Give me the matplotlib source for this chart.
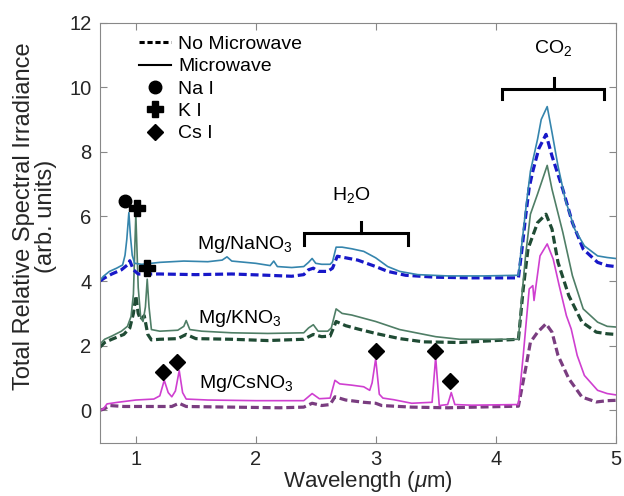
import matplotlib
matplotlib.use("Agg")
import matplotlib.pyplot as plt
from matplotlib.lines import Line2D

plt.rcParams["font.family"] = ["Liberation Sans", "DejaVu Sans"]
plt.rcParams["mathtext.fontset"] = "custom"
plt.rcParams["mathtext.rm"] = "Liberation Sans"
plt.rcParams["mathtext.it"] = "Liberation Sans:italic"

# ---- spectra (wavelength in um, offset irradiance) ----
wl_na_mw = [0.70, 0.73, 0.78, 0.84, 0.89, 0.91, 0.925, 0.942, 0.955, 0.97,
            0.99, 1.05, 1.20, 1.40, 1.60, 1.72, 1.76, 1.80, 2.00, 2.12,
            2.15, 2.18, 2.30, 2.40, 2.44, 2.47, 2.50, 2.55, 2.62, 2.64,
            2.67, 2.72, 2.80, 2.90, 3.00, 3.10, 3.20, 3.35, 3.60, 3.90,
            4.19, 4.22, 4.26, 4.29, 4.35, 4.38, 4.43, 4.47, 4.52, 4.58,
            4.66, 4.74, 4.85, 4.93, 5.00]
na_mw = [4.02, 4.15, 4.30, 4.40, 4.50, 4.80, 5.30, 6.12, 5.40, 4.80,
         4.55, 4.52, 4.58, 4.62, 4.60, 4.65, 4.75, 4.62, 4.55, 4.48,
         4.62, 4.45, 4.42, 4.45, 4.58, 4.70, 4.55, 4.52, 4.52, 4.60,
         5.05, 5.05, 5.00, 4.92, 4.72, 4.45, 4.30, 4.20, 4.16, 4.16,
         4.18, 5.20, 6.50, 7.40, 8.40, 9.00, 9.40, 8.60, 7.56, 6.53,
         5.60, 5.09, 4.78, 4.73, 4.70]

wl_na_off = [0.70, 0.74, 0.80, 0.88, 0.93, 0.95, 0.98, 1.02, 1.20, 1.50,
             1.80, 2.10, 2.30, 2.40, 2.44, 2.48, 2.52, 2.60, 2.64, 2.68,
             2.75, 2.85, 3.00, 3.10, 3.25, 3.50, 3.80, 4.19, 4.22, 4.25,
             4.28, 4.31, 4.36, 4.42, 4.47, 4.56, 4.64, 4.73, 4.85, 4.93,
             5.00]
na_off = [4.00, 4.10, 4.22, 4.35, 4.50, 4.63, 4.35, 4.22, 4.22, 4.20,
          4.22, 4.18, 4.15, 4.20, 4.35, 4.40, 4.30, 4.30, 4.40, 4.77,
          4.72, 4.65, 4.45, 4.30, 4.18, 4.12, 4.10, 4.10, 5.00, 6.00,
          6.90, 7.40, 8.10, 8.54, 7.87, 6.84, 5.81, 4.99, 4.58, 4.48,
          4.45]

wl_k_mw = [0.70, 0.74, 0.80, 0.88, 0.93, 0.96, 0.98, 1.00, 1.02, 1.04,
           1.06, 1.08, 1.095, 1.11, 1.13, 1.20, 1.35, 1.40, 1.42, 1.45,
           1.55, 1.80, 2.10, 2.40, 2.44, 2.48, 2.52, 2.60, 2.63, 2.67,
           2.72, 2.80, 2.90, 3.00, 3.20, 3.50, 3.70, 4.19, 4.22, 4.25,
           4.29, 4.35, 4.43, 4.47, 4.56, 4.64, 4.73, 4.85, 4.93, 5.00]
k_mw = [2.05, 2.20, 2.30, 2.45, 2.60, 2.90, 3.60, 6.07, 3.80, 2.90,
        2.75, 3.20, 4.06, 3.20, 2.50, 2.45, 2.48, 2.60, 2.78, 2.50,
        2.45, 2.40, 2.38, 2.40, 2.55, 2.65, 2.45, 2.45, 2.55, 3.14,
        3.00, 2.95, 2.85, 2.75, 2.50, 2.28, 2.20, 2.20, 3.60, 4.80,
        6.07, 6.70, 7.58, 6.84, 5.51, 4.17, 3.14, 2.73, 2.60, 2.58]

wl_k_off = [0.70, 0.74, 0.80, 0.90, 0.95, 0.98, 1.00, 1.02, 1.04, 1.07,
            1.10, 1.13, 1.20, 1.35, 1.42, 1.50, 1.80, 2.10, 2.40, 2.48,
            2.55, 2.62, 2.67, 2.75, 2.85, 3.00, 3.20, 3.40, 3.70, 4.19,
            4.23, 4.27, 4.35, 4.42, 4.47, 4.52, 4.61, 4.72, 4.84, 4.93,
            5.00]
k_off = [1.95, 2.10, 2.20, 2.35, 2.55, 3.00, 3.55, 3.00, 2.80, 2.93,
         2.35, 2.18, 2.20, 2.22, 2.35, 2.22, 2.20, 2.16, 2.20, 2.35,
         2.28, 2.30, 2.75, 2.62, 2.52, 2.38, 2.22, 2.12, 2.10, 2.20,
         3.76, 5.00, 5.81, 6.07, 5.61, 4.58, 3.55, 2.73, 2.42, 2.37,
         2.35]

wl_cs_mw = [0.70, 0.73, 0.76, 0.85, 1.00, 1.15, 1.20, 1.237, 1.27, 1.30,
            1.33, 1.362, 1.39, 1.42, 1.60, 2.00, 2.40, 2.47, 2.53, 2.62,
            2.66, 2.70, 2.80, 2.90, 2.95, 2.97, 3.00, 3.03, 3.06, 3.15,
            3.30, 3.47, 3.50, 3.53, 3.60, 3.63, 3.66, 3.80, 4.19, 4.23,
            4.28, 4.31, 4.32, 4.37, 4.43, 4.48, 4.53, 4.59, 4.63, 4.68,
            4.74, 4.85, 4.93, 5.00]
cs_mw = [0.00, 0.05, 0.20, 0.25, 0.32, 0.35, 0.45, 0.93, 0.55, 0.42,
         0.60, 1.23, 0.55, 0.35, 0.32, 0.30, 0.30, 0.52, 0.36, 0.38,
         0.93, 0.82, 0.78, 0.73, 0.62, 0.85, 1.60, 0.50, 0.38, 0.33,
         0.22, 0.25, 1.65, 0.15, 0.18, 0.55, 0.18, 0.16, 0.18, 1.70,
         3.76, 3.86, 3.40, 4.78, 5.15, 4.68, 3.86, 2.93, 2.52, 1.70,
         1.08, 0.62, 0.52, 0.48]

wl_cs_off = [0.70, 0.74, 0.78, 0.90, 1.10, 1.30, 1.36, 1.42, 1.80, 2.20,
             2.40, 2.47, 2.55, 2.62, 2.66, 2.75, 2.90, 3.00, 3.05, 3.30,
             3.60, 4.19, 4.25, 4.29, 4.35, 4.42, 4.47, 4.52, 4.61, 4.72,
             4.84, 4.93, 5.00]
cs_off = [0.00, 0.05, 0.15, 0.12, 0.12, 0.12, 0.22, 0.12, 0.10, 0.08,
          0.10, 0.22, 0.15, 0.18, 0.42, 0.32, 0.25, 0.22, 0.15, 0.10,
          0.08, 0.13, 1.29, 2.11, 2.42, 2.68, 2.42, 1.70, 0.98, 0.41,
          0.26, 0.30, 0.31]

# atomic emission line markers
na_x, na_y = [0.91], [6.48]
k_x, k_y = [1.006, 1.09], [6.25, 4.39]
cs_x = [1.224, 1.346, 3.00, 3.496, 3.618]
cs_y = [1.19, 1.51, 1.85, 1.85, 0.90]

# molecular band brackets: (left, right, top, foot, tick x, tick top)
h2o_band = (2.40, 3.27, 5.48, 5.12, 2.88, 5.83)
co2_band = (4.05, 4.905, 9.93, 9.62, 4.49, 10.27)

C_NA_MW, C_NA_OFF = "#3585ad", "#1818c8"
C_K_MW, C_K_OFF = "#4f7e66", "#1f4b34"
C_CS_MW, C_CS_OFF = "#cf3fd0", "#7a3d80"

fig = plt.figure(figsize=(6.24, 4.96), dpi=100)
ax = fig.add_axes([0.160, 0.1075, 0.8265, 0.847])

dash_kw = dict(lw=2.3, dashes=(2.5, 1.2))
solid_kw = dict(lw=1.2)

ax.plot(wl_cs_off, cs_off, color=C_CS_OFF, **dash_kw)
ax.plot(wl_cs_mw, cs_mw, color=C_CS_MW, **solid_kw)
ax.plot(wl_k_off, k_off, color=C_K_OFF, **dash_kw)
ax.plot(wl_k_mw, k_mw, color=C_K_MW, **solid_kw)
ax.plot(wl_na_off, na_off, color=C_NA_OFF, **dash_kw)
ax.plot(wl_na_mw, na_mw, color=C_NA_MW, **solid_kw)

ax.plot(na_x, na_y, "o", color="black", ms=9, ls="none")
ax.plot(k_x, k_y, "P", color="black", ms=11, ls="none")
ax.plot(cs_x, cs_y, "D", color="black", ms=8, ls="none")

for left, right, top, foot, tx, ttop in (h2o_band, co2_band):
    ax.plot([left, left, right, right], [foot, top, top, foot],
            color="black", lw=2.2, solid_joinstyle="miter")
    ax.plot([tx, tx], [top, ttop], color="black", lw=2.2)

ax.text(2.795, 6.51, r"H$_2$O", fontsize=14, ha="center", va="baseline")
ax.text(4.48, 11.06, r"CO$_2$", fontsize=14, ha="center", va="baseline")

ax.text(1.508, 4.99, r"Mg/NaNO$_3$", fontsize=14, va="baseline")
ax.text(1.519, 2.70, r"Mg/KNO$_3$", fontsize=14, va="baseline")
ax.text(1.527, 0.69, r"Mg/CsNO$_3$", fontsize=14, va="baseline")

handles = [
    Line2D([], [], color="black", lw=2.2, dashes=(1.7, 0.9)),
    Line2D([], [], color="black", lw=1.5),
    Line2D([], [], marker="o", color="black", ms=9, ls="none"),
    Line2D([], [], marker="P", color="black", ms=11, ls="none"),
    Line2D([], [], marker="D", color="black", ms=8, ls="none"),
]
labels = ["No Microwave", "Microwave", "Na I", "K I", "Cs I"]
ax.legend(handles, labels, loc="upper left", bbox_to_anchor=(0.0756, 0.969),
          frameon=False, fontsize=14, handlelength=1.65, handletextpad=0.36,
          labelspacing=0.24, borderpad=0, borderaxespad=0)

ax.set_xlim(0.7, 5)
ax.set_ylim(-1, 12)
ax.set_xticks([1, 2, 3, 4, 5])
ax.set_yticks([0, 2, 4, 6, 8, 10, 12])
ax.tick_params(direction="in", top=True, right=True, length=5, width=0.8,
               color="#888888", labelcolor="#262626", labelsize=14.5)
ax.tick_params(axis="x", pad=5)
ax.tick_params(axis="y", pad=6)
for sp in ax.spines.values():
    sp.set_color("#888888")
    sp.set_linewidth(0.8)

ax.set_xlabel(r"Wavelength ($\mu$m)", fontsize=16, color="#262626")
ax.set_ylabel("Total Relative Spectral Irradiance\n(arb. units)",
              fontsize=17, color="#262626", linespacing=1.0)
# anchor the x label by its bottom edge so it sits just inside the figure
ax.xaxis.set_label_coords(0.52, -0.122)
ax.xaxis.label.set_va("bottom")
ax.yaxis.set_label_coords(-0.083, 0.538)

fig.savefig("out.png", dpi=100)
